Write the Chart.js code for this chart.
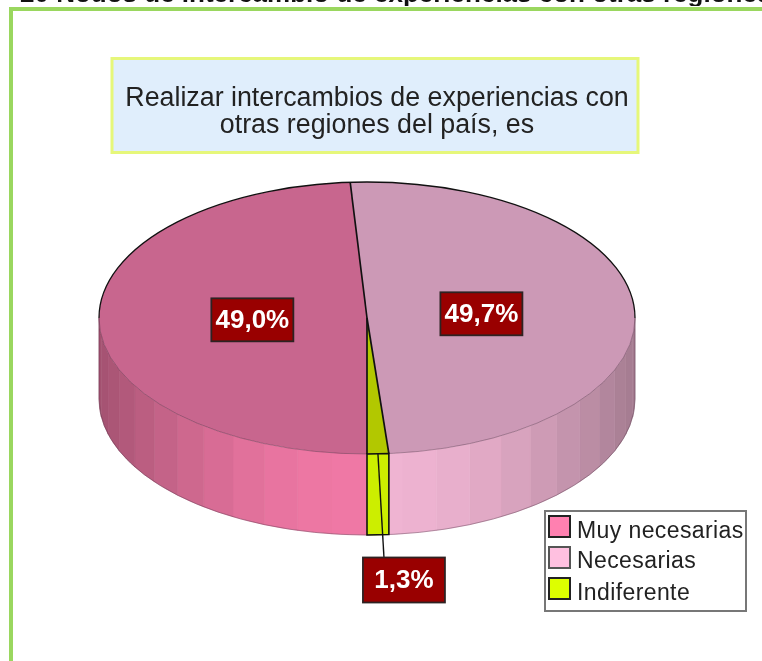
<!DOCTYPE html>
<html lang="es">
<head>
<meta charset="utf-8">
<title>Intercambio de experiencias</title>
<script src="https://cdn.jsdelivr.net/npm/chart.js@4"></script>
<style>
html,body{margin:0;padding:0;background:#fff;width:762px;height:661px;overflow:hidden}
#headClip{position:absolute;left:0;top:0;width:762px;height:6px;overflow:hidden}
#heading{position:absolute;left:20px;top:-20px;white-space:nowrap;font:bold 26px "Liberation Sans",Arial,sans-serif;color:#111;line-height:26px;filter:blur(.4px)}
#frame{position:absolute;left:9px;top:7px;width:760px;height:660px;border:4px solid #9AD75F;border-right:0;border-bottom:0;filter:blur(.3px)}
canvas{position:absolute;left:0;top:0;filter:blur(.4px)}
</style>
</head>
<body>
<div id="headClip"><div id="heading">20 Nodos de intercambio de experiencias con otras regiones</div></div>
<div id="frame"></div>
<canvas id="c" width="762" height="661"></canvas>
<script>
const categories = ['Muy necesarias', 'Necesarias', 'Indiferente'];
const percentages = [49.0, 49.7, 1.3];
const titleLines = ['Realizar intercambios de experiencias con', 'otras regiones del país, es'];
const baseColors = ['#FF80B0', '#FFC0E0', '#DDFF00'];
const topColors = ['#C8668E', '#CC99B6', '#B2C800'];
const wallFront = ['', '', '#CCEE00'];

const SQUASH = 136 / 268, DEPTH = 81, TOP_CY = 318;
const FONT = '"Liberation Sans",Arial,sans-serif';

function shade(hex, k) {
  const n = parseInt(hex.slice(1), 16);
  return `rgb(${Math.round((n >> 16) * k)},${Math.round(((n >> 8) & 255) * k)},${Math.round((n & 255) * k)})`;
}
function fmt(v) { return v.toFixed(1).replace('.', ',') + '%'; }

const pie3d = {
  id: 'pie3d',
  afterLayout(chart) {
    const t = chart.titleBlock;
    t.left = 113; t.right = 641; t.top = 85;
  },
  beforeDraw(chart) {
    const c = chart.ctx;
    c.save();
    c.fillStyle = '#E0EEFC';
    c.strokeStyle = '#E6F77A';
    c.lineWidth = 3;
    c.fillRect(112, 58.5, 526, 94);
    c.strokeRect(112, 58.5, 526, 94);
    c.restore();
  },
  beforeDatasetsDraw(chart) {
    const c = chart.ctx, arcs = chart.getDatasetMeta(0).data;
    const a0 = arcs[0], cx = a0.x, rx = a0.outerRadius, ry = rx * SQUASH;
    const step = Math.PI / 24;
    arcs.forEach((arc, i) => {
      for (let k = 0; k < 3; k++) {
        const lo = Math.max(arc.startAngle, 2 * Math.PI * k);
        const hi = Math.min(arc.endAngle, 2 * Math.PI * k + Math.PI);
        if (hi <= lo) continue;
        for (let a = lo; a < hi - 1e-6;) {
          const next = Math.min(hi, (Math.floor(a / step + 1e-6) + 1) * step);
          const mid = (a + next) / 2, s = Math.sin(mid);
          const fill = wallFront[i] || shade(baseColors[i], 0.64 + 0.30 * s * s);
          c.beginPath();
          c.ellipse(cx, TOP_CY, rx, ry, 0, a, next);
          c.ellipse(cx, TOP_CY + DEPTH, rx, ry, 0, next, a, true);
          c.closePath();
          c.fillStyle = fill; c.fill();
          c.strokeStyle = fill; c.lineWidth = 0.6; c.stroke();
          a = next;
        }
      }
    });
    c.save();
    c.translate(cx, TOP_CY);
    c.scale(1, SQUASH);
    c.translate(-cx, -a0.y);
  },
  afterDatasetsDraw(chart) {
    const c = chart.ctx;
    c.restore();
    const arcs = chart.getDatasetMeta(0).data;
    const a0 = arcs[0], cx = a0.x, rx = a0.outerRadius, ry = rx * SQUASH, cy = TOP_CY;
    const P = (ang, f = 1, dy = 0) => [cx + rx * f * Math.cos(ang), cy + ry * f * Math.sin(ang) + dy];

    c.save();
    // soft lower rims and outer edge of the wall
    c.strokeStyle = 'rgba(70,40,60,.38)'; c.lineWidth = 1;
    c.beginPath(); c.ellipse(cx, cy, rx, ry, 0, 0, Math.PI); c.stroke();
    c.beginPath();
    c.moveTo(cx + rx, cy); c.lineTo(cx + rx, cy + DEPTH);
    c.ellipse(cx, cy + DEPTH, rx, ry, 0, 0, Math.PI);
    c.lineTo(cx - rx, cy); c.stroke();

    // upper rim
    c.strokeStyle = '#111'; c.lineWidth = 1.3;
    c.beginPath(); c.ellipse(cx, cy, rx, ry, 0, Math.PI, 2 * Math.PI); c.stroke();

    // spokes between slices
    c.lineWidth = 1.7;
    const small = arcs[2];
    [arcs[0].endAngle, small.startAngle, small.endAngle].forEach(a => {
      const p = P(a);
      c.beginPath(); c.moveTo(cx, cy); c.lineTo(p[0], p[1]); c.stroke();
    });

    // wall of the small slice
    const s = P(small.startAngle), e = P(small.endAngle);
    c.lineWidth = 1.6;
    c.beginPath();
    c.moveTo(s[0], s[1]);
    c.ellipse(cx, cy, rx, ry, 0, small.startAngle, small.endAngle);
    c.lineTo(e[0], e[1] + DEPTH);
    c.ellipse(cx, cy + DEPTH, rx, ry, 0, small.endAngle, small.startAngle, true);
    c.closePath();
    c.stroke();

    // leader of the small slice label
    const midS = (small.startAngle + small.endAngle) / 2, m = P(midS);
    const lx = m[0] + 26, lyTop = 557, ly = 580;
    c.lineWidth = 1.4;
    c.beginPath(); c.moveTo(m[0], m[1]); c.lineTo(m[0] + 6, lyTop); c.stroke();

    // value labels
    c.font = 'bold 26px ' + FONT;
    c.textAlign = 'center'; c.textBaseline = 'middle';
    percentages.forEach((v, i) => {
      const arc = arcs[i], mid = (arc.startAngle + arc.endAngle) / 2;
      let x, y;
      if (i === 2) { x = lx; y = ly; }
      else { const p = P(mid, 0.428); x = p[0]; y = p[1]; }
      const w = 82, h = i === 2 ? 45 : 43;
      c.fillStyle = '#990000'; c.strokeStyle = '#2e2222'; c.lineWidth = 1.8;
      c.fillRect(x - w / 2, y - h / 2, w, h);
      c.strokeRect(x - w / 2, y - h / 2, w, h);
      c.fillStyle = '#fff';
      c.fillText(fmt(v), x, y + 1);
    });

    // legend
    c.fillStyle = '#fff'; c.strokeStyle = '#777'; c.lineWidth = 2;
    c.fillRect(545, 511, 201, 100);
    c.strokeRect(545, 511, 201, 100);
    const swY = [516, 547, 578], baseY = [538, 568, 600];
    c.textAlign = 'left'; c.textBaseline = 'alphabetic';
    c.font = '23px ' + FONT;
    if ('letterSpacing' in c) c.letterSpacing = '0.4px';
    categories.forEach((label, i) => {
      c.fillStyle = baseColors[i];
      c.strokeStyle = i === 1 ? '#555' : '#222'; c.lineWidth = 2;
      c.fillRect(549, swY[i], 21, 21);
      c.strokeRect(549, swY[i], 21, 21);
      c.fillStyle = '#222';
      c.fillText(label, 577, baseY[i]);
    });
    c.restore();
  }
};

new Chart(document.getElementById('c'), {
  type: 'pie',
  data: {
    labels: categories,
    datasets: [{ data: percentages, backgroundColor: topColors, borderWidth: 0, hoverOffset: 0 }]
  },
  options: {
    responsive: false,
    animation: false,
    rotation: 180,
    layout: { padding: { left: 99, right: 127, top: 0, bottom: 63 } },
    plugins: {
      legend: { display: false },
      tooltip: { enabled: false },
      title: {
        display: true,
        text: titleLines,
        color: '#222',
        font: { family: FONT, size: 26.8, weight: 'normal', lineHeight: 1.02 },
        padding: { top: 0, bottom: 7 }
      }
    }
  },
  plugins: [pie3d]
});
</script>
</body>
</html>
